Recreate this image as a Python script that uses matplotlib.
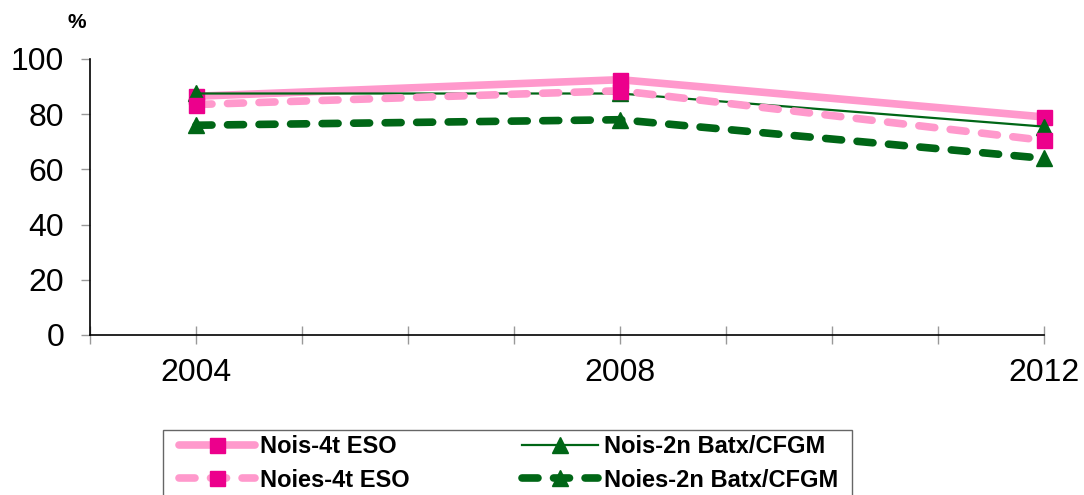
import matplotlib
matplotlib.use("Agg")
import matplotlib.pyplot as plt
from matplotlib.patches import Rectangle

years = [2004, 2008, 2012]
nois_4t_eso = [86.5, 92.5, 79.0]
noies_4t_eso = [83.5, 88.5, 70.5]
nois_2n_batx = [87.5, 87.5, 75.5]
noies_2n_batx = [76.0, 78.0, 64.0]
labels = ["Nois-4t ESO", "Nois-2n Batx/CFGM", "Noies-4t ESO", "Noies-2n Batx/CFGM"]
xtick_labels = ["2004", "2008", "2012"]
yticks = [0, 20, 40, 60, 80, 100]

plt.rcParams['lines.scale_dashes'] = False

W, H = 1084, 495
fig = plt.figure(figsize=(W / 100, H / 100), dpi=100)
ax = fig.add_axes([90 / W, 1 - 335 / H, (1044 - 90) / W, (335 - 59) / H])

pink = '#FF99CC'
magenta = '#EC008C'
green = '#006616'
dash = (0, (11.5, 11.2))

l1, = ax.plot(years, nois_4t_eso, color=pink, lw=5.5, solid_capstyle='round',
              marker='s', ms=10.8, mfc=magenta, mec=magenta, label=labels[0], zorder=3)
l2, = ax.plot(years, nois_2n_batx, color=green, lw=1.6,
              marker='^', ms=11, mfc=green, mec=green, label=labels[1], zorder=4)
l3, = ax.plot(years, noies_4t_eso, color=pink, lw=5.5, linestyle=dash, dash_capstyle='round',
              marker='s', ms=10.8, mfc=magenta, mec=magenta, label=labels[2], zorder=5)
l4, = ax.plot(years, noies_2n_batx, color=green, lw=5.5, linestyle=dash, dash_capstyle='round',
              marker='^', ms=11, mfc=green, mec=green, label=labels[3], zorder=6)

for l in (l1, l2, l3, l4):
    l.set_clip_on(False)

ax.set_xlim(2003, 2012)
ax.set_ylim(0, 100)
ax.set_yticks(yticks)
ax.set_xticks(list(range(2003, 2013)))
ax.set_xticklabels(["" if str(y) not in xtick_labels else str(y) for y in range(2003, 2013)])

for s in ('top', 'right'):
    ax.spines[s].set_visible(False)
for s in ('left', 'bottom'):
    ax.spines[s].set_color('black')
    ax.spines[s].set_linewidth(1.2)

ax.tick_params(axis='y', direction='out', length=6.5, width=1, color='#999999',
               labelsize=23, pad=12)
ax.tick_params(axis='x', direction='inout', length=13, width=1, color='#999999',
               labelsize=23, pad=10)
for t in ax.get_xticklabels() + ax.get_yticklabels():
    t.set_fontfamily('Liberation Sans')

fig.text(77 / W, 1 - 22 / H, '%', ha='center', va='center', fontsize=15,
         fontweight='bold', family='Liberation Sans')

# legend frame
fig.patches.append(Rectangle((163 / W, -0.05), (852 - 163) / W, (1 - 430 / H) + 0.05,
                             transform=fig.transFigure, facecolor='white',
                             edgecolor='#666666', lw=1.0, zorder=0))

leg = fig.legend(handles=[l1, l3, l2, l4], labels=[labels[0], labels[2], labels[1], labels[3]],
                 ncol=2, loc='upper left', bbox_to_anchor=(179 / W, 1 - 435 / H),
                 frameon=False, borderpad=0, borderaxespad=0,
                 handlelength=3.2, handletextpad=0.25, columnspacing=4.75,
                 labelspacing=0.45,
                 prop={'family': 'Liberation Sans', 'weight': 'bold', 'size': 17})

fig.savefig('out.png', dpi=100)
